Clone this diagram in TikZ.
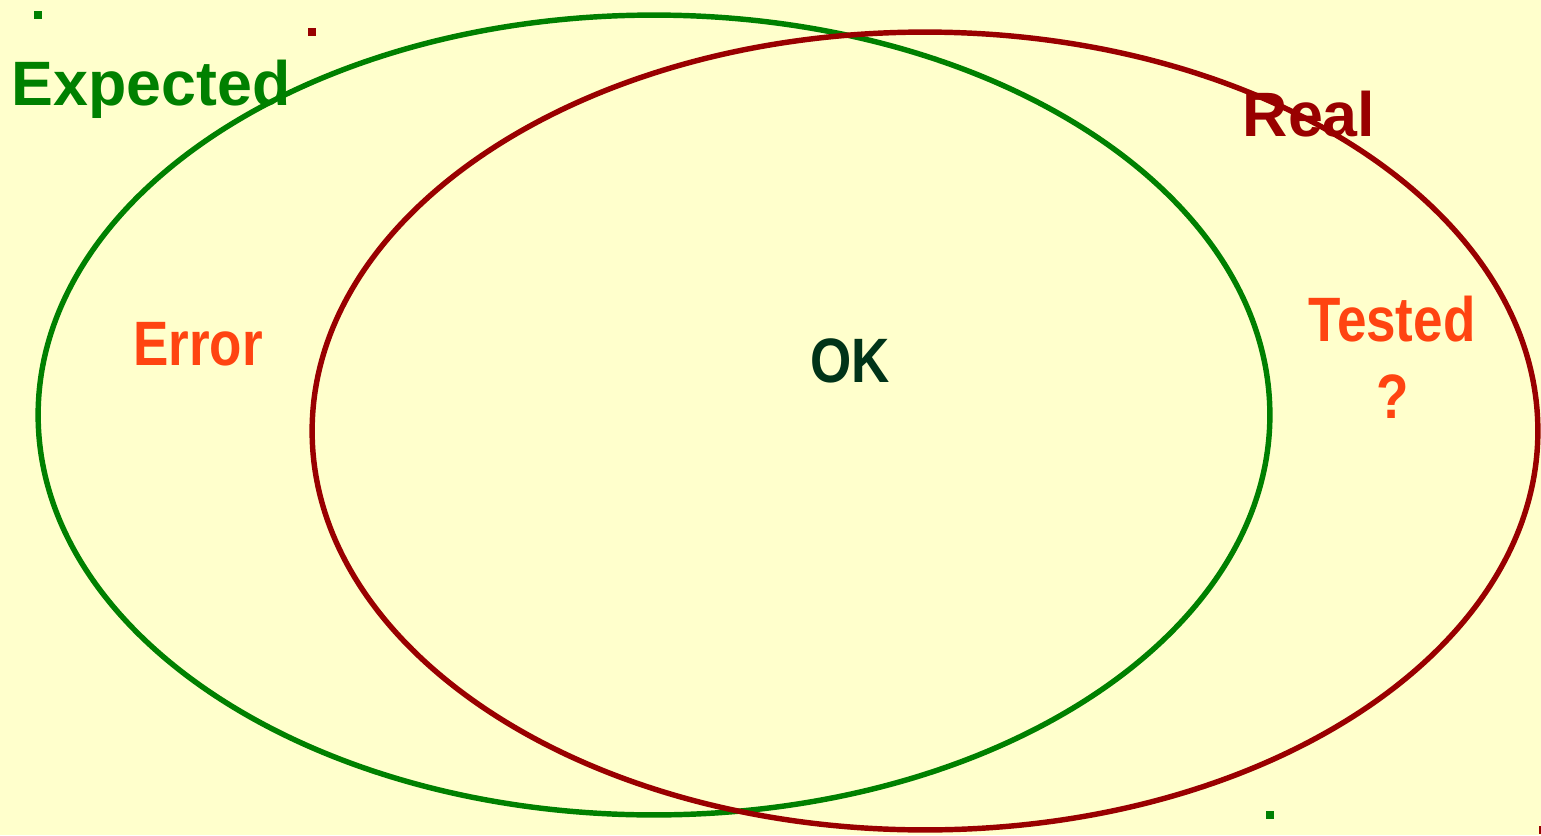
\documentclass[tikz,border=0pt]{standalone}
\usepackage{fontspec}
\setmainfont{Liberation Sans}
\newfontfamily\narrowfont[FakeStretch=0.845]{Liberation Sans}
\usetikzlibrary{shapes.geometric}

\definecolor{bgyellow}{HTML}{FFFFCC}
\definecolor{expgreen}{HTML}{008000}
\definecolor{realred}{HTML}{990000}
\definecolor{labelorange}{HTML}{FF4411}
\definecolor{okgreen}{HTML}{003318}

\tikzset{
  setline/.style={draw=#1, line width=3.1pt, ellipse, inner sep=0pt, outer sep=0pt},
  handle/.style={fill=#1, minimum size=4.2pt, inner sep=0pt, outer sep=0pt},
  biglabel/.style={anchor=base, inner sep=0pt, font=\fontsize{35.7}{40}\selectfont\bfseries},
  narrowlabel/.style={anchor=base, inner sep=0pt, font=\fontsize{35.7}{40}\selectfont\narrowfont\bfseries}
}

\begin{document}
\begin{tikzpicture}[x=0.02cm, y=-0.02cm]
        % Background
        \fill[bgyellow] (0,0) rectangle (1541,835);
        \useasboundingbox (0,0) rectangle (1541,835);

        % Sets
        \node[setline=expgreen, minimum width=24.64cm, minimum height=16cm] (expected) at (654,415) {};
        \node[setline=realred, minimum width=24.52cm, minimum height=15.96cm] (real) at (925,431) {};

        % Selection handles
        \node[handle=expgreen] (hexpA) at (expected.west |- expected.north) {};
        \node[handle=expgreen] (hexpB) at (expected.east |- expected.south) {};
        \node[handle=realred] (hrealA) at (real.west |- real.north) {};
        \node[handle=realred] (hrealB) at ([xshift=3pt]real.east |- real.south) {};

        % Set names
        \node[biglabel, text=expgreen] (lexpected) at (151,105) {Expected};
        \node[biglabel, text=realred] (lreal) at (1309,136) {Real};

        % Regions
        \node[narrowlabel, text=labelorange] (lerror) at (198,365) {Error};
        \node[narrowlabel, text=okgreen] (lok) at (850,382) {OK};
        \node[narrowlabel, text=labelorange] (ltested) at (1392,341) {Tested};
        \node[narrowlabel, text=labelorange] (lquery) at (1393,418) {?};
\end{tikzpicture}
\end{document}
